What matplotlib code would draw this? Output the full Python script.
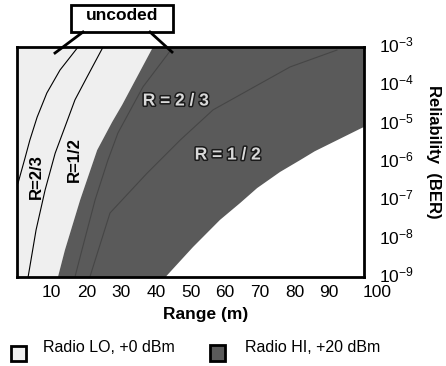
import matplotlib
matplotlib.use("Agg")
import matplotlib.pyplot as plt
import matplotlib.patheffects as pe
import matplotlib.transforms as mtrans
from matplotlib.patches import Rectangle
from matplotlib.lines import Line2D
from matplotlib.ticker import FixedLocator, NullLocator

plt.rcParams['font.family'] = ['Liberation Sans', 'DejaVu Sans']
plt.rcParams['mathtext.fontset'] = 'custom'
plt.rcParams['mathtext.rm'] = 'Liberation Sans'
plt.rcParams['mathtext.default'] = 'regular'

# ---------------- data (range in m, log10 BER) ----------------
# boundary between Radio LO (light) and Radio HI (dark) regions
lo_edge_range = [11.8, 13.8, 18.2, 23.1, 27.4, 30.3, 34.6, 39.2]
lo_edge_logber = [-9.0, -8.30, -6.99, -5.69, -4.96, -4.51, -3.78, -3.0]

# outer limit of Radio HI region
hi_edge_range = [42.8, 50.7, 58.5, 64.3, 69.2, 75.8, 81.6, 85.8, 99.4, 100.0]
hi_edge_logber = [-9.0, -8.22, -7.51, -7.07, -6.68, -6.26, -5.95, -5.72, -5.11, -5.09]

# coded curves, Radio LO
lo_r23_range = [0.3, 2.3, 3.7, 5.8, 8.6, 12.4, 17.6]
lo_r23_logber = [-6.55, -5.90, -5.43, -4.83, -4.20, -3.60, -3.0]
lo_r12_range = [3.2, 5.5, 8.1, 11.0, 13.8, 16.7, 20.2, 24.8]
lo_r12_logber = [-9.0, -7.77, -6.73, -5.77, -5.09, -4.38, -3.78, -3.0]

# faint curves inside Radio HI region
hi_unc_range = [16.7, 18.7, 22.5, 26.2, 29.1, 36.3, 45.0]
hi_unc_logber = [-9.0, -8.30, -6.99, -5.95, -5.24, -4.04, -3.0]
hi_r23_range = [21.0, 26.8, 37.5, 47.0, 56.5, 78.7, 92.2]
hi_r23_logber = [-9.0, -7.33, -6.29, -5.43, -4.64, -3.52, -3.08]

x_ticks = [10, 20, 30, 40, 50, 60, 70, 80, 90, 100]
y_exps = [-9, -8, -7, -6, -5, -4, -3]
legend_labels = ['Radio LO, +0 dBm', 'Radio HI, +20 dBm']

LIGHT = '#efefef'
DARK = '#5a5a5a'

W, H = 446, 366
fig = plt.figure(figsize=(W / 100, H / 100), dpi=100)
ax = fig.add_axes([17 / W, 89 / H, 347 / W, 230 / H])
ax.set_yscale('log')
ax.set_xlim(0, 100)
ax.set_ylim(1e-9, 1e-3)

p = lambda L: [10.0 ** v for v in L]

# light region (Radio LO): left edge to LO boundary
lx = [0] + lo_edge_range + [0]
ly = [1e-9] + p(lo_edge_logber) + [1e-3]
ax.fill(lx, ly, color=LIGHT, lw=0, zorder=1)

# dark region (Radio HI): LO boundary to HI boundary
dx = lo_edge_range + [100, 100] + hi_edge_range[::-1]
dy = p(lo_edge_logber) + [1e-3, 10 ** hi_edge_logber[-1]] + p(hi_edge_logber)[::-1]
ax.fill(dx, dy, color=DARK, lw=0, zorder=1)

# curves
ax.plot(lo_r23_range, p(lo_r23_logber), color='black', lw=0.8, zorder=3)
ax.plot(lo_r12_range, p(lo_r12_logber), color='black', lw=0.8, zorder=3)
ax.plot(hi_unc_range, p(hi_unc_logber), color='#464646', lw=0.8, zorder=2)
ax.plot(hi_r23_range, p(hi_r23_logber), color='#464646', lw=0.8, zorder=2)

# axes styling
for s in ax.spines.values():
    s.set_linewidth(2)
    s.set_zorder(5)
ax.xaxis.set_major_locator(FixedLocator(x_ticks))
ax.set_xticklabels([str(t) for t in x_ticks], fontsize=12.5)
ax.yaxis.set_major_locator(FixedLocator([10.0 ** e for e in y_exps]))
ax.yaxis.set_minor_locator(NullLocator())
ax.set_yticklabels([r'$10^{%d}$' % e for e in y_exps], fontsize=12.5)
ax.tick_params(axis='x', length=0, pad=6)
ax.tick_params(axis='y', which='both', length=0, left=False, right=True,
               labelleft=False, labelright=True, pad=11)
fig.canvas.draw()
lab = ax.get_xticklabels()[-1]
lab.set_transform(lab.get_transform() + mtrans.ScaledTranslation(13 / 100, 0, fig.dpi_scale_trans))
for lab in ax.get_yticklabels():
    lab.set_transform(lab.get_transform() + mtrans.ScaledTranslation(0, 3 / 100, fig.dpi_scale_trans))

ax.set_xlabel('Range (m)', fontsize=12.5, fontweight='bold', va='center')
ax.xaxis.set_label_coords((206 - 17) / 347, -(315 - 277) / 230)
ax.set_ylabel('Reliability  (BER)', fontsize=12, fontweight='bold', rotation=270,
              va='center', ha='center', rotation_mode='anchor')
ax.yaxis.set_label_coords((434 - 17) / 347, (277 - 152) / 230)

# region labels
fx = lambda px: (px - 17) / 347
fy = lambda py: (277 - py) / 230
ax.text(fx(36), fy(177), 'R=2/3', rotation=90, fontsize=12, fontweight='bold',
        ha='center', va='center', transform=ax.transAxes, zorder=6)
ax.text(fx(74), fy(160), 'R=1/2', rotation=90, fontsize=12, fontweight='bold',
        ha='center', va='center', transform=ax.transAxes, zorder=6)
outline = [pe.withStroke(linewidth=2.2, foreground='#1a1a1a')]
ax.text(fx(176), fy(101), 'R = 2 / 3', fontsize=12.5, fontweight='bold', color='#d9d9d9',
        ha='center', va='center', transform=ax.transAxes, zorder=6, path_effects=outline)
ax.text(fx(228), fy(155), 'R = 1 / 2', fontsize=12.5, fontweight='bold', color='#d9d9d9',
        ha='center', va='center', transform=ax.transAxes, zorder=6, path_effects=outline)

# "uncoded" callout
F = fig.transFigure
fig.add_artist(Rectangle((71 / W, 1 - 32 / H), 102 / W, 27 / H, transform=F,
                         facecolor='white', edgecolor='black', lw=2, zorder=10))
fig.text(122 / W, 1 - 16 / H, 'uncoded', fontsize=12.5, fontweight='bold',
         ha='center', va='center', zorder=11)
fig.add_artist(Line2D([83 / W, 55 / W], [1 - 32 / H, 1 - 53 / H], transform=F,
                      color='black', lw=2, zorder=10))
fig.add_artist(Line2D([150 / W, 172 / W], [1 - 32 / H, 1 - 52 / H], transform=F,
                      color='black', lw=2, zorder=10))

# legend
fig.add_artist(Rectangle((11 / W, 1 - 361 / H), 15 / W, 15 / H, transform=F,
                         facecolor=LIGHT, edgecolor='black', lw=2))
fig.add_artist(Rectangle((210 / W, 1 - 361 / H), 15 / W, 16 / H, transform=F,
                         facecolor=DARK, edgecolor='black', lw=2))
fig.text(43 / W, 1 - 348 / H, legend_labels[0], fontsize=11.5, ha='left', va='center')
fig.text(245 / W, 1 - 348 / H, legend_labels[1], fontsize=11.5, ha='left', va='center')

fig.savefig('out.png', dpi=100)
